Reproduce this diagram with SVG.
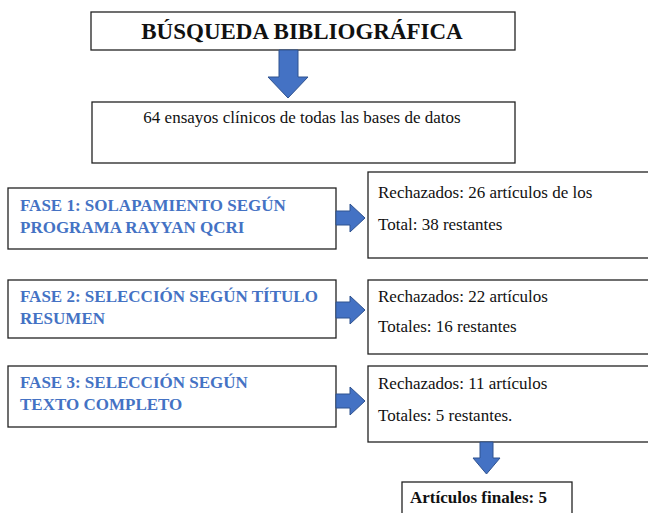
<svg xmlns="http://www.w3.org/2000/svg" width="648" height="513" viewBox="0 0 648 513">
<style>
.box{fill:#fff;stroke:#222;stroke-width:1.3}
.t{font-family:"Liberation Serif","Times New Roman",serif;font-size:17px;fill:#111}
.title{font-family:"Liberation Serif","Times New Roman",serif;font-size:23px;font-weight:bold;fill:#111}
.ph{font-family:"Liberation Serif","Times New Roman",serif;font-size:17px;font-weight:bold;fill:#4472C4}
.fin{font-family:"Liberation Serif","Times New Roman",serif;font-size:17px;font-weight:bold;fill:#111}
.arr{fill:#4472C4;stroke:#2F528F;stroke-width:1}
</style>
<rect width="648" height="513" fill="#fff"/>
<g id="busqueda">
<rect class="box" x="91" y="12" width="424" height="38"/>
<text class="title" x="302" y="39" text-anchor="middle">BÚSQUEDA BIBLIOGRÁFICA</text>
</g>
<g id="ensayos">
<rect class="box" x="92" y="102" width="423" height="61"/>
<text class="t" x="302" y="123" text-anchor="middle">64 ensayos clínicos de todas las bases de datos</text>
</g>
<g id="fase1">
<rect class="box" x="8" y="188" width="328" height="61"/>
<text class="ph" x="20" y="211">FASE 1: SOLAPAMIENTO SEGÚN</text>
<text class="ph" x="20" y="233">PROGRAMA RAYYAN QCRI</text>
</g>
<g id="res1">
<rect class="box" x="368" y="172" width="290" height="86"/>
<text class="t" x="378" y="198">Rechazados: 26 artículos de los</text>
<text class="t" x="378" y="230">Total: 38 restantes</text>
</g>
<g id="fase2">
<rect class="box" x="8" y="280" width="328" height="58"/>
<text class="ph" x="20" y="302">FASE 2: SELECCIÓN SEGÚN TÍTULO</text>
<text class="ph" x="20" y="324">RESUMEN</text>
</g>
<g id="res2">
<rect class="box" x="368" y="280" width="290" height="74"/>
<text class="t" x="378" y="302">Rechazados: 22 artículos</text>
<text class="t" x="378" y="332">Totales: 16 restantes</text>
</g>
<g id="fase3">
<rect class="box" x="8" y="366" width="328" height="61"/>
<text class="ph" x="20" y="388">FASE 3: SELECCIÓN SEGÚN</text>
<text class="ph" x="20" y="410">TEXTO COMPLETO</text>
</g>
<g id="res3">
<rect class="box" x="368" y="366" width="290" height="76"/>
<text class="t" x="378" y="389">Rechazados: 11 artículos</text>
<text class="t" x="378" y="421">Totales: 5 restantes.</text>
</g>
<g id="final">
<rect class="box" x="402" y="482" width="170" height="40"/>
<text class="fin" x="410" y="503">Artículos finales: 5</text>
</g>
<g id="connectors">
<path class="arr" d="M279,50 H298 V77 H308 L288,98 L268,77 H279 Z"/>
<path class="arr" d="M336,211 H350 V204 L365,218 L350,232 V225 H336 Z"/>
<path class="arr" d="M336,302 H350 V296 L365,310 L350,324 V318 H336 Z"/>
<path class="arr" d="M336,394 H350 V387 L365,401 L350,415 V408 H336 Z"/>
<path class="arr" d="M480,442 H493 V458 H500 L486.5,474 L473,458 H480 Z"/>
</g>
</svg>
